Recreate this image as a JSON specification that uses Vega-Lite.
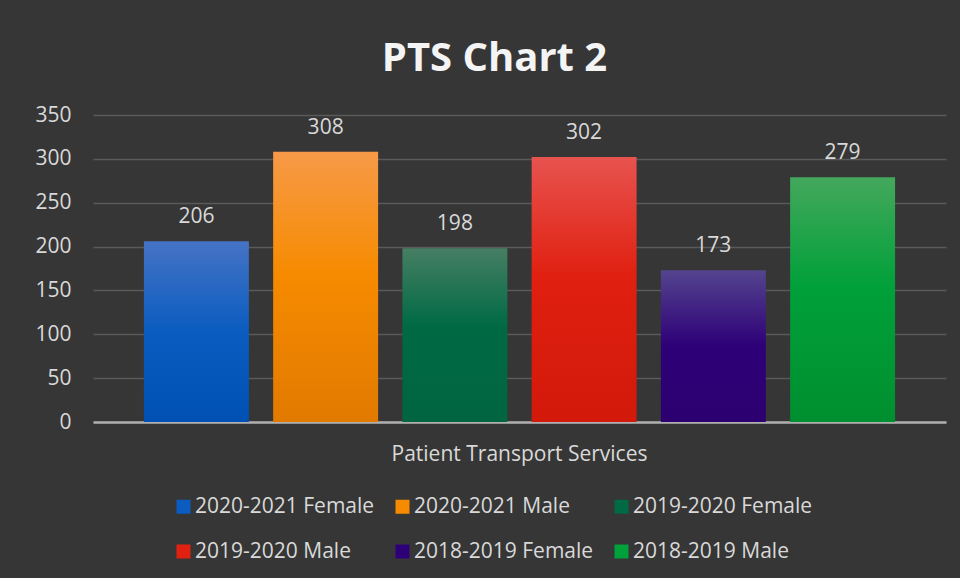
{
  "$schema": "https://vega.github.io/schema/vega-lite/v6.json",
  "width": 853,
  "height": 307,
  "autosize": {"type": "none"},
  "padding": {"left": 93, "top": 115, "right": 14, "bottom": 156},
  "background": "#363636",
  "title": {
    "text": "PTS Chart 2",
    "font": "Open Sans",
    "fontSize": 40,
    "fontWeight": "bold",
    "color": "#f4f4f4",
    "anchor": "middle",
    "dx": -25,
    "offset": 25
  },
  "data": {
    "values": [
      {"category": "Patient Transport Services", "series": "2020-2021 Female", "value": 206},
      {"category": "Patient Transport Services", "series": "2020-2021 Male", "value": 308},
      {"category": "Patient Transport Services", "series": "2019-2020 Female", "value": 198},
      {"category": "Patient Transport Services", "series": "2019-2020 Male", "value": 302},
      {"category": "Patient Transport Services", "series": "2018-2019 Female", "value": 173},
      {"category": "Patient Transport Services", "series": "2018-2019 Male", "value": 279}
    ]
  },
  "encoding": {
    "x": {
      "field": "category",
      "type": "nominal",
      "scale": {"paddingInner": 0, "paddingOuter": 0.05},
      "axis": {
        "title": null,
        "labelAngle": 0,
        "labelFont": "Open Sans",
        "labelFontSize": 21,
        "labelColor": "#d9d9d9",
        "labelPadding": 21,
        "labelLimit": 500,
        "ticks": false,
        "domainColor": "#b0b0b0",
        "domainWidth": 2.5,
        "grid": false
      }
    },
    "xOffset": {
      "field": "series",
      "type": "nominal",
      "sort": ["2020-2021 Female", "2020-2021 Male", "2019-2020 Female", "2019-2020 Male", "2018-2019 Female", "2018-2019 Male"],
      "scale": {"paddingInner": 0.188, "paddingOuter": 0.094}
    },
    "y": {
      "field": "value",
      "type": "quantitative",
      "scale": {"domain": [0, 350]},
      "axis": {
        "title": null,
        "values": [0, 50, 100, 150, 200, 250, 300, 350],
        "labelFont": "Open Sans",
        "labelFontSize": 21,
        "labelColor": "#d9d9d9",
        "labelPadding": 22,
        "ticks": false,
        "domain": false,
        "gridColor": "#5a5a5a",
        "gridWidth": 1.5
      }
    }
  },
  "layer": [
    {
      "mark": {"type": "bar"},
      "encoding": {
        "color": {
          "field": "series",
          "type": "nominal",
          "scale": {
            "domain": ["2020-2021 Female", "2020-2021 Male", "2019-2020 Female", "2019-2020 Male", "2018-2019 Female", "2018-2019 Male"],
            "range": ["#0a5cc0", "#f68b00", "#006a45", "#e02010", "#2e0078", "#00a03a"]
          },
          "condition": [
            {"test": "datum.series === '2020-2021 Female'", "value": {"gradient": "linear", "x1": 0, "y1": 0, "x2": 0, "y2": 1, "stops": [{"offset": 0, "color": "#4573c5"}, {"offset": 0.5, "color": "#0a5cc0"}, {"offset": 1, "color": "#0051b3"}]}},
            {"test": "datum.series === '2020-2021 Male'", "value": {"gradient": "linear", "x1": 0, "y1": 0, "x2": 0, "y2": 1, "stops": [{"offset": 0, "color": "#f79a48"}, {"offset": 0.45, "color": "#f68b00"}, {"offset": 1, "color": "#e27a00"}]}},
            {"test": "datum.series === '2019-2020 Female'", "value": {"gradient": "linear", "x1": 0, "y1": 0, "x2": 0, "y2": 1, "stops": [{"offset": 0, "color": "#467e63"}, {"offset": 0.45, "color": "#006a45"}, {"offset": 1, "color": "#006540"}]}},
            {"test": "datum.series === '2019-2020 Male'", "value": {"gradient": "linear", "x1": 0, "y1": 0, "x2": 0, "y2": 1, "stops": [{"offset": 0, "color": "#e8534f"}, {"offset": 0.45, "color": "#e02010"}, {"offset": 1, "color": "#d2190a"}]}},
            {"test": "datum.series === '2018-2019 Female'", "value": {"gradient": "linear", "x1": 0, "y1": 0, "x2": 0, "y2": 1, "stops": [{"offset": 0, "color": "#54448e"}, {"offset": 0.5, "color": "#2e0078"}, {"offset": 1, "color": "#2c0070"}]}},
            {"test": "datum.series === '2018-2019 Male'", "value": {"gradient": "linear", "x1": 0, "y1": 0, "x2": 0, "y2": 1, "stops": [{"offset": 0, "color": "#44a85c"}, {"offset": 0.45, "color": "#00a03a"}, {"offset": 1, "color": "#008f30"}]}}
          ],
          "legend": {
            "title": null,
            "orient": "none",
            "legendX": 80,
            "legendY": 381,
            "columns": 3,
            "direction": "horizontal",
            "symbolType": "square",
            "symbolSize": 196,
            "symbolStrokeWidth": 0,
            "symbolOpacity": 1,
            "labelFont": "Open Sans",
            "labelFontSize": 21,
            "labelColor": "#d9d9d9",
            "labelOffset": 1,
            "labelLimit": 400,
            "columnPadding": 17,
            "rowPadding": 23
          }
        }
      }
    },
    {
      "mark": {"type": "text", "baseline": "alphabetic", "dy": -18, "font": "Open Sans", "fontSize": 21, "color": "#d9d9d9"},
      "encoding": {"text": {"field": "value", "type": "quantitative"}}
    }
  ],
  "config": {"view": {"stroke": null}}
}
